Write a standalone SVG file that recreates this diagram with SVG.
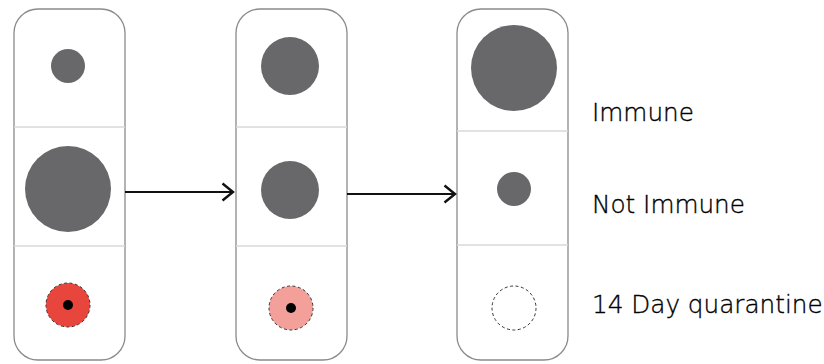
<svg xmlns="http://www.w3.org/2000/svg" width="824" height="364" viewBox="0 0 824 364">
  <style>
    .panel { fill: #ffffff; stroke: #8a8a8a; stroke-width: 1.3; }
    .divider { stroke: #d8d8d8; stroke-width: 1.3; }
    .dot { fill: #68686b; }
    .ring { stroke: #333333; stroke-width: 1; stroke-dasharray: 3 2.5; }
    .core { fill: #000000; }
    .edge { stroke: #111111; stroke-width: 2.2; fill: none; }
    .label { font-family: "DejaVu Sans", "Liberation Sans", sans-serif; font-weight: 200; font-size: 24.7px; fill: #000000; stroke: #000000; stroke-width: 0.35; }
  </style>
  <defs>
    <marker id="chev" viewBox="0 0 14 20" refX="12.5" refY="10" markerWidth="14" markerHeight="20" markerUnits="userSpaceOnUse" orient="auto">
      <path d="M2,1.5 L12.5,10 L2,18.5" fill="none" stroke="#111111" stroke-width="2.4"/>
    </marker>
  </defs>

  <rect width="824" height="364" fill="#ffffff"/>

  <g id="stage-1">
    <rect class="panel" x="14" y="9" width="111" height="351" rx="24"/>
    <line class="divider" x1="14" y1="127" x2="125" y2="127"/>
    <line class="divider" x1="14" y1="246" x2="125" y2="246"/>
    <circle class="dot" cx="68" cy="66" r="17"/>
    <circle class="dot" cx="68" cy="189" r="43"/>
    <circle class="ring" cx="68" cy="305" r="22" fill="#e8453c"/>
    <circle class="core" cx="68" cy="305" r="5"/>
  </g>

  <g id="stage-2">
    <rect class="panel" x="236" y="9" width="111" height="351" rx="24"/>
    <line class="divider" x1="236" y1="127" x2="347" y2="127"/>
    <line class="divider" x1="236" y1="246" x2="347" y2="246"/>
    <circle class="dot" cx="290" cy="66" r="29"/>
    <circle class="dot" cx="290" cy="190" r="29"/>
    <circle class="ring" cx="291" cy="308" r="22" fill="#f4a09a"/>
    <circle class="core" cx="291" cy="308" r="5"/>
  </g>

  <g id="stage-3">
    <rect class="panel" x="457" y="9" width="111" height="351" rx="24"/>
    <line class="divider" x1="457" y1="131" x2="568" y2="131"/>
    <line class="divider" x1="457" y1="245" x2="568" y2="245"/>
    <circle class="dot" cx="514" cy="68" r="43"/>
    <circle class="dot" cx="514" cy="189" r="17"/>
    <circle class="ring" cx="514" cy="308" r="22" fill="none"/>
  </g>

  <g id="connectors">
    <line class="edge" x1="125" y1="192" x2="233" y2="192" marker-end="url(#chev)"/>
    <line class="edge" x1="347" y1="194" x2="455" y2="194" marker-end="url(#chev)"/>
  </g>

  <g id="legend">
    <text class="label" x="592" y="121">Immune</text>
    <text class="label" x="592" y="213">Not Immune</text>
    <text class="label" x="592" y="313">14 Day quarantine</text>
  </g>
</svg>
